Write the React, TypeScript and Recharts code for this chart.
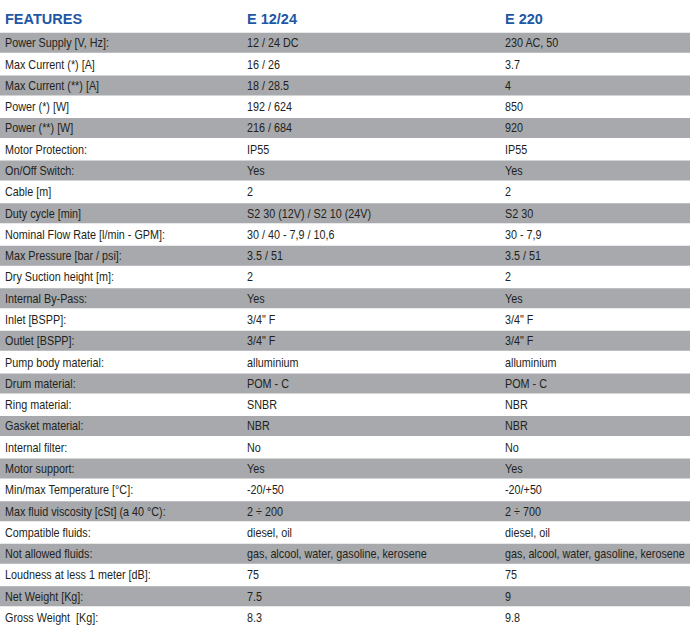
import React from 'react';
import { BarChart, Bar, XAxis, YAxis, Cell, LabelList } from 'recharts';

const features = [
  'Power Supply [V, Hz]:',
  'Max Current (*) [A]',
  'Max Current (**) [A]',
  'Power (*) [W]',
  'Power (**) [W]',
  'Motor Protection:',
  'On/Off Switch:',
  'Cable [m]',
  'Duty cycle [min]',
  'Nominal Flow Rate [l/min - GPM]:',
  'Max Pressure [bar / psi]:',
  'Dry Suction height [m]:',
  'Internal By-Pass:',
  'Inlet [BSPP]:',
  'Outlet [BSPP]:',
  'Pump body material:',
  'Drum material:',
  'Ring material:',
  'Gasket material:',
  'Internal filter:',
  'Motor support:',
  'Min/max Temperature [°C]:',
  'Max fluid viscosity [cSt] (a 40 °C):',
  'Compatible fluids:',
  'Not allowed fluids:',
  'Loudness at less 1 meter [dB]:',
  'Net Weight [Kg]:',
  'Gross Weight  [Kg]:'
];

const e1224 = [
  '12 / 24 DC', '16 / 26', '18 / 28.5', '192 / 624', '216 / 684', 'IP55', 'Yes', '2',
  'S2 30 (12V) / S2 10 (24V)', '30 / 40 - 7,9 / 10,6', '3.5 / 51', '2', 'Yes', '3/4" F',
  '3/4" F', 'alluminium', 'POM - C', 'SNBR', 'NBR', 'No', 'Yes', '-20/+50', '2 ÷ 200',
  'diesel, oil', 'gas, alcool, water, gasoline, kerosene', '75', '7.5', '8.3'
];

const e220 = [
  '230 AC, 50', '3.7', '4', '850', '920', 'IP55', 'Yes', '2', 'S2 30', '30 - 7,9',
  '3.5 / 51', '2', 'Yes', '3/4" F', '3/4" F', 'alluminium', 'POM - C', 'NBR', 'NBR', 'No',
  'Yes', '-20/+50', '2 ÷ 700', 'diesel, oil', 'gas, alcool, water, gasoline, kerosene',
  '75', '9', '9.8'
];

const columns = ['FEATURES', 'E 12/24', 'E 220'];

const data = features.map((f, i) => ({ feature: f, a: e1224[i], b: e220[i], band: 1 }));

const font = '"Liberation Sans", Arial, sans-serif';
const colX = [5, 247, 505];

// the source uses a condensed face; squeeze Liberation Sans to match
const RowLabel = (props: any) => {
  const { y, height, index } = props;
  const row = data[index];
  if (!row) return null;
  const cy = Number(y) + Number(height) / 2 + 4.5;
  const texts = [row.feature, row.a, row.b];
  return (
    <g>
      {texts.map((t, i) => (
        <text
          key={i}
          transform={`translate(${colX[i]},${cy}) scale(0.83,1)`}
          fill="#231f20"
          fontSize={13}
          fontFamily={font}
          style={{ whiteSpace: 'pre' }}
        >
          {t}
        </text>
      ))}
    </g>
  );
};

export default function App() {
  return (
    <div style={{ position: 'absolute', left: 0, top: 0, width: 690, height: 631, background: '#fff' }}>
      {columns.map((c, i) => (
        <div
          key={c}
          style={{
            position: 'absolute',
            left: colX[i],
            top: 10,
            fontFamily: font,
            fontWeight: 'bold',
            fontSize: 14.5,
            lineHeight: '18px',
            color: '#1d57a5'
          }}
        >
          {c}
        </div>
      ))}
      <div style={{ position: 'absolute', left: 0, top: 0 }}>
        <BarChart
          width={690}
          height={631}
          data={data}
          layout="vertical"
          margin={{ top: 32, right: 0, bottom: 3, left: 0 }}
          barCategoryGap="4%"
        >
          <XAxis type="number" domain={[0, 1]} hide />
          <YAxis type="category" dataKey="feature" hide />
          <Bar dataKey="band" isAnimationActive={false}>
            {data.map((d, i) => (
              <Cell key={d.feature} fill={i % 2 === 0 ? '#a7a9ac' : '#ffffff'} />
            ))}
            <LabelList dataKey="feature" content={<RowLabel />} />
          </Bar>
        </BarChart>
      </div>
    </div>
  );
}
